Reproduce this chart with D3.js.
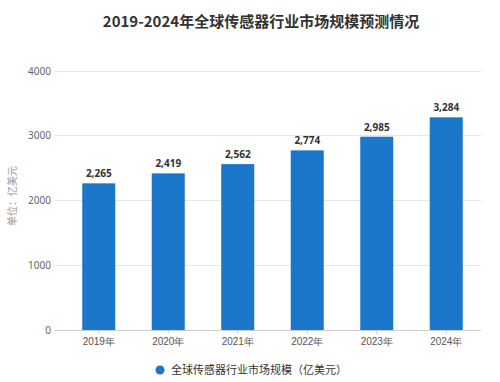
<!DOCTYPE html>
<html><head><meta charset="utf-8">
<script src="https://cdn.jsdelivr.net/npm/d3@7/dist/d3.min.js"></script>
<style>body{margin:0;background:#fff;}svg{display:block;font-family:"Microsoft YaHei","Noto Sans CJK SC",sans-serif;}</style>
</head><body><svg id="c" width="500" height="382"></svg>
<script>
const categories = ["2019年","2020年","2021年","2022年","2023年","2024年"];
const values = [2265, 2419, 2562, 2774, 2985, 3284];
const yTicks = [0, 1000, 2000, 3000, 4000];
const title = "2019-2024年全球传感器行业市场规模预测情况";
const seriesName = "全球传感器行业市场规模（亿美元）";
const yTitle = "单位：亿美元";

const svg = d3.select("#c");
const x = d3.scaleBand().domain(categories).range([64, 481]).paddingInner(0.525).paddingOuter(0.2625);
const y = d3.scaleLinear().domain([0, 4000]).range([330, 71]);

svg.append("text").attr("x", 261).attr("y", 27).attr("text-anchor", "middle")
  .attr("font-size", 15).attr("font-weight", "bold").attr("fill", "#333").text(title);

// grid
svg.append("g").selectAll("line").data(yTicks.filter(d => d > 0)).join("line")
  .attr("x1", 55).attr("x2", 481).attr("y1", d => y(d)).attr("y2", d => y(d))
  .attr("stroke", "#e6e6e6").attr("stroke-width", 1).attr("shape-rendering", "crispEdges");

// y axis labels
const ya = svg.append("g").attr("transform", "translate(55,0)")
  .call(d3.axisLeft(y).tickValues(yTicks).tickSize(0).tickPadding(4).tickFormat(d3.format("d")));
ya.select(".domain").remove();
ya.selectAll("text").attr("font-size", 10).attr("fill", "#666").attr("font-family", "Noto Sans, sans-serif");

// bars
svg.append("g").selectAll("rect").data(values).join("rect")
  .attr("x", (d, i) => x(categories[i])).attr("width", x.bandwidth())
  .attr("y", d => y(d)).attr("height", d => y(0) - y(d)).attr("fill", "#1a77c9");

// value labels
svg.append("g").selectAll("text").data(values).join("text")
  .attr("x", (d, i) => x(categories[i]) + x.bandwidth() / 2).attr("y", d => y(d) - 6)
  .attr("text-anchor", "middle").attr("font-size", 10).attr("font-weight", "bold")
  .attr("fill", "#333").attr("font-family", "Noto Sans, sans-serif").text(d => d3.format(",")(d));

// x axis
const xa = svg.append("g").attr("transform", "translate(0,330)")
  .call(d3.axisBottom(x).tickSize(4).tickPadding(4));
xa.select(".domain").remove();
xa.selectAll(".tick line").attr("stroke", "#ccc");
xa.selectAll("text").attr("font-size", 10).attr("fill", "#555");
svg.append("line").attr("x1", 55).attr("x2", 481).attr("y1", 330.5).attr("y2", 330.5)
  .attr("stroke", "#ccc").attr("stroke-width", 1);

// y title
svg.append("text").attr("transform", "translate(16,196) rotate(-90)").attr("text-anchor", "middle")
  .attr("font-size", 10).attr("fill", "#999").text(yTitle);

// legend
svg.append("circle").attr("cx", 160).attr("cy", 370).attr("r", 4.5).attr("fill", "#1a77c9");
svg.append("text").attr("x", 171).attr("y", 374).attr("font-size", 11).attr("fill", "#333").text(seriesName);
</script></body></html>
